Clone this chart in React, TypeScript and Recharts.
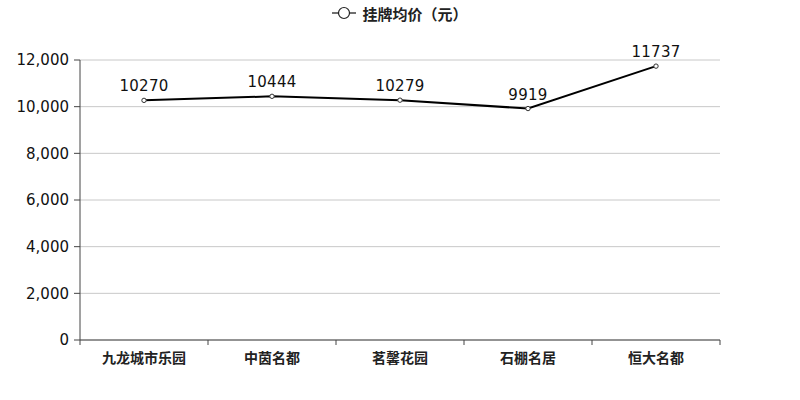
import React from "react";
import { LineChart, Line, XAxis, YAxis, CartesianGrid, Legend, LabelList } from "recharts";

const categories = ["九龙城市乐园", "中茵名都", "茗馨花园", "石棚名居", "恒大名都"];
const prices = [10270, 10444, 10279, 9919, 11737];
const yTicks = [0, 2000, 4000, 6000, 8000, 10000, 12000];
const seriesName = "挂牌均价（元）";

const data = categories.map((name, i) => ({ name, price: prices[i] }));

const NUM_FONT = "'DejaVu Sans', sans-serif";
const CJK_FONT = "'Noto Sans CJK SC', sans-serif";

const XTick = (props: any) => {
  const { x, y, payload, index, visibleTicksCount } = props;
  const half = payload && payload.offset ? payload.offset : 64;
  const last = index === (visibleTicksCount ?? categories.length) - 1;
  return (
    <g>
      <line x1={x - half} x2={x - half} y1={y - 8} y2={y - 3} stroke="#444" />
      {last && <line x1={x + half} x2={x + half} y1={y - 8} y2={y - 3} stroke="#444" />}
      <text x={x} y={y + 15} textAnchor="middle" fontFamily={CJK_FONT} fontWeight="bold" fontSize={14} fill="#222">
        {payload.value}
      </text>
    </g>
  );
};

const LegendContent = () => (
  <div style={{ display: "flex", justifyContent: "center", alignItems: "center", fontFamily: CJK_FONT, fontWeight: "bold", fontSize: 15, color: "#222", height: 20 }}>
    <svg width={24} height={16} style={{ marginRight: 6 }}>
      <line x1={0} x2={24} y1={8} y2={8} stroke="#222" strokeWidth={1.3} />
      <circle cx={12} cy={8} r={5.5} fill="#fff" stroke="#222" strokeWidth={1.2} />
    </svg>
    <span>{seriesName}</span>
  </div>
);

export default function App() {
  return (
    <div style={{ position: "absolute", left: 0, top: 0, width: 800, height: 400, background: "#fff" }}>
      <LineChart width={800} height={400} data={data} margin={{ top: 40, right: 80, bottom: 30, left: 0 }}>
        <CartesianGrid vertical={false} stroke="#c8c8c8" />
        <XAxis
          dataKey="name"
          scale="band"
          axisLine={{ stroke: "#444" }}
          tickLine={false}
          tick={<XTick />}
          height={30}
          interval={0}
        />
        <YAxis
          domain={[0, 12000]}
          ticks={yTicks}
          width={80}
          axisLine={{ stroke: "#444" }}
          tickLine={{ stroke: "#444" }}
          tickSize={6}
          tickMargin={5}
          tickFormatter={(v: number) => v.toLocaleString("en-US")}
          tick={{ fontFamily: NUM_FONT, fontSize: 15, fill: "#111" }}
        />
        <Legend
          verticalAlign="top"
          align="center"
          content={<LegendContent />}
          wrapperStyle={{ position: "absolute", top: 3, left: 0, width: 800 }}
        />
        <Line
          dataKey="price"
          name={seriesName}
          stroke="#000"
          strokeWidth={2}
          dot={{ r: 2.2, fill: "#fff", stroke: "#333", strokeWidth: 1 }}
          activeDot={false}
          isAnimationActive={false}
        >
          <LabelList dataKey="price" position="top" offset={9} style={{ fontFamily: NUM_FONT, fontSize: 15, fill: "#111", letterSpacing: 0.3 }} />
        </Line>
      </LineChart>
    </div>
  );
}
